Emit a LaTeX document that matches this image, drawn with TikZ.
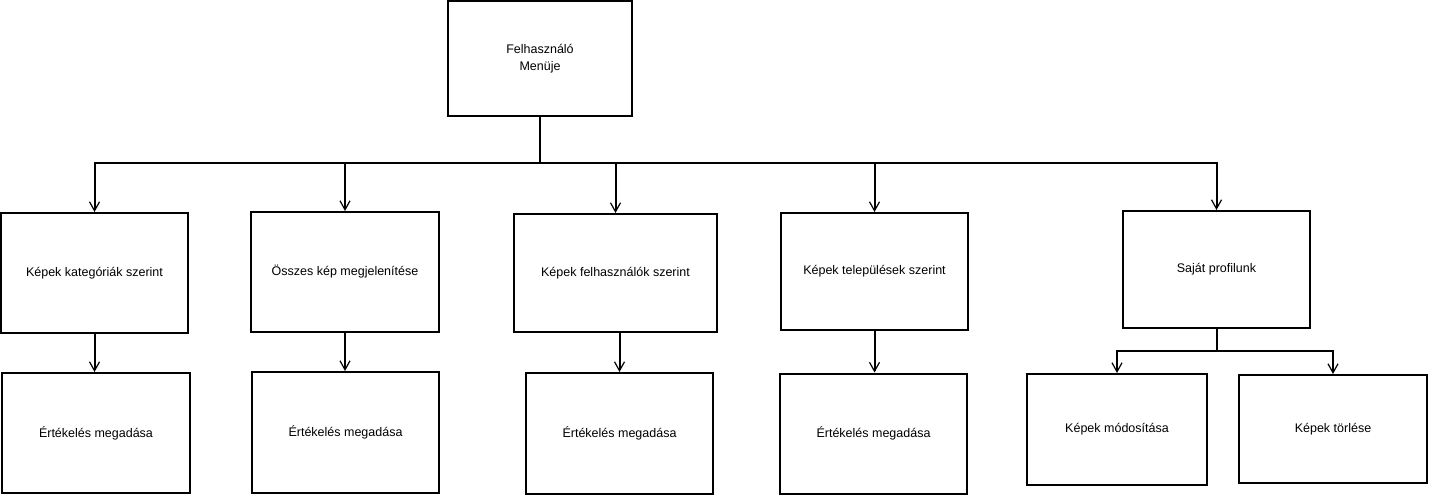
\documentclass[tikz,border=0pt]{standalone}
\usepackage{fontspec}
\setmainfont{Liberation Sans}
\usetikzlibrary{arrows.meta}
\begin{document}
\begin{tikzpicture}[x=1pt,y=-1pt,
  box/.style={draw=black, line width=2pt, fill=white, inner sep=0pt, align=center,
    font=\fontsize{12.5}{16.5}\selectfont},
  conn/.style={draw=black, line width=2pt},
  arr/.style={conn, -{Straight Barb[length=9pt,width=10pt,line width=1.2pt]}}]
\useasboundingbox[fill=white] (0,0) rectangle (1429,497);
% top
\node[box, minimum width=184pt, minimum height=115pt] (top) at (540,58.5) {Felhasználó\\Menüje};
% row 1
\node[box, minimum width=187pt, minimum height=120pt] (b1) at (94.5,273) {Képek kategóriák szerint};
\node[box, minimum width=188pt, minimum height=120pt] (b2) at (345,272) {Összes kép megjelenítése};
\node[box, minimum width=203pt, minimum height=118pt] (b3) at (615.5,273) {Képek felhasználók szerint};
\node[box, minimum width=187pt, minimum height=117pt] (b4) at (874.5,271.5) {Képek települések szerint};
\node[box, minimum width=187pt, minimum height=117pt] (b5) at (1216.5,269.5) {Saját profilunk};
% row 2
\node[box, minimum width=188pt, minimum height=120pt] (c1) at (96,433) {Értékelés megadása};
\node[box, minimum width=187pt, minimum height=121pt] (c2) at (345.5,432.5) {Értékelés megadása};
\node[box, minimum width=187pt, minimum height=121pt] (c3) at (619.5,433.5) {Értékelés megadása};
\node[box, minimum width=187pt, minimum height=120pt] (c4) at (873.5,433.5) {Értékelés megadása};
\node[box, minimum width=180pt, minimum height=111pt] (c5) at (1117,429.5) {Képek módosítása};
\node[box, minimum width=188pt, minimum height=108pt] (c6) at (1333,429) {Képek törlése};
% bus from top
\coordinate (bus) at (540,163.5);
\draw[conn] (top.south) -- (bus);
\draw[arr] (bus) -| (b1.north);
\draw[arr] (bus) -| (b2.north);
\draw[arr] (bus) -| (b3.north);
\draw[arr] (bus) -| (b4.north);
\draw[arr] (bus) -| (b5.north);
% row 1 to row 2
\draw[arr] (b1.south) -- (b1.south |- c1.north);
\draw[arr] (b2.south) -- (b2.south |- c2.north);
\draw[arr] (c3.north |- b3.south) -- (c3.north);
\draw[arr] (b4.south) -- (b4.south |- c4.north);
% profile sub-bus
\coordinate (sbus) at (1216.5,351);
\draw[conn] (b5.south) -- (sbus);
\draw[arr] (sbus) -| (c5.north);
\draw[arr] (sbus) -| (c6.north);
\end{tikzpicture}
\end{document}
